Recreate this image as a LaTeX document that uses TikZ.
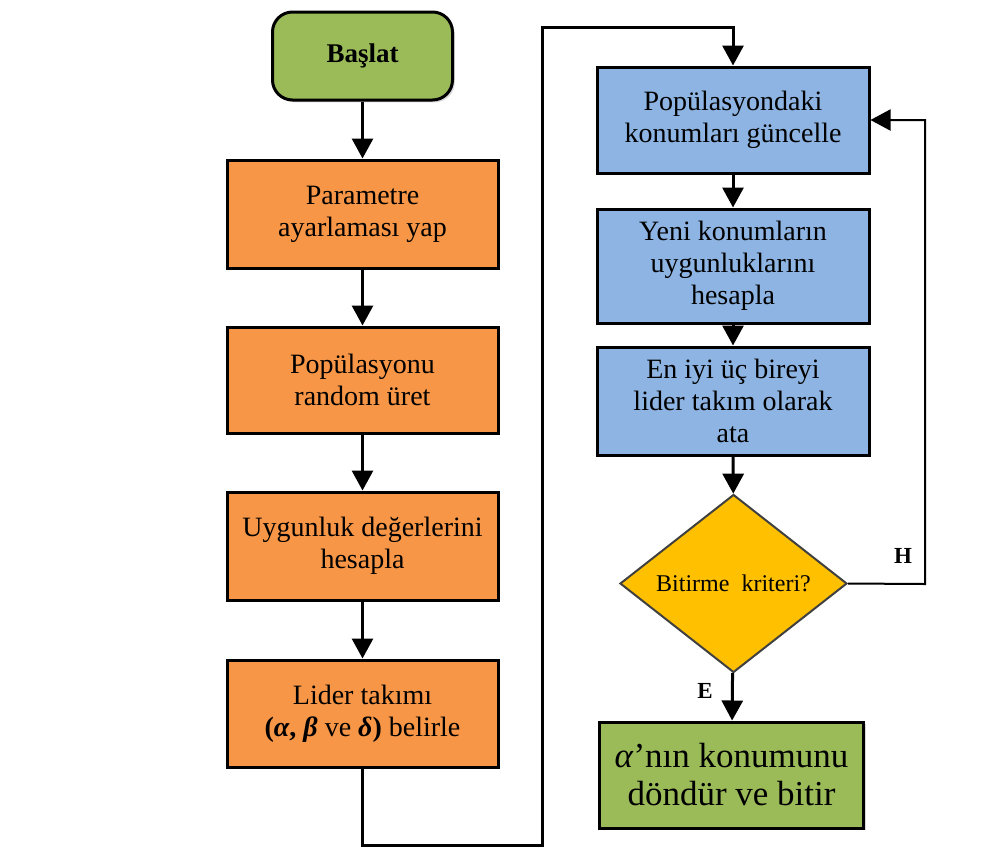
\documentclass[tikz,border=0pt]{standalone}
\usepackage{fontspec}
\setmainfont{Liberation Serif}
\usepackage{tikz}
\usetikzlibrary{shapes,arrows,positioning,shadows,calc,shapes.geometric,arrows.meta}
\definecolor{baslatgreen}{RGB}{155,187,89}
\definecolor{adimorange}{RGB}{247,150,70}
\definecolor{dongublue}{RGB}{141,180,226}
\definecolor{karargold}{RGB}{255,192,0}

\tikzset{
	adim/.style={draw=black, line width=3pt, fill=adimorange, minimum width=271pt,
		align=center, font=\fontsize{28}{32}\selectfont},
	dongu/.style={adim, fill=dongublue, minimum width=272pt},
	ok/.style={line width=3pt, -{Triangle[width=21pt,length=20pt]}},
	okince/.style={line width=2pt, -{Triangle[width=21pt,length=20pt]}}
}

\begin{document}
\begin{tikzpicture}[x=1pt,y=-1pt]
				\useasboundingbox (0,0) rectangle (984,847);
				% Baslangic
				\node[draw=black, line width=3pt, fill=baslatgreen, rounded corners=20pt,
					minimum width=180pt, minimum height=88pt, drop shadow={opacity=0.3},
					font=\fontsize{27}{32}\selectfont\bfseries] (basla) at (362.5,56) {Başlat};
				
				% Sol sutun
				\node[adim, minimum height=108pt] (param) at (362.5,214) {Parametre\\ayarlaması yap};
				\node[adim, minimum height=106pt] (pop) at (362.5,380) {Popülasyonu\\random üret};
				\node[adim, minimum height=108pt] (uyg) at (362.5,546) {Uygunluk değerlerini\\hesapla};
				\node[adim, minimum height=107pt] (lider) at (362.5,713.5)
					{Lider takımı\\\textbf{(\textit{α}, \textit{β}} ve \textbf{\textit{δ})} belirle};
				
				% Sag sutun
				\node[dongu, minimum height=106pt] (guncel) at (733,120) {Popülasyondaki\\konumları güncelle};
				\node[dongu, minimum height=114pt] (yeni) at (733,266) {Yeni konumların\\uygunluklarını\\hesapla};
				\node[dongu, minimum height=108pt] (ata) at (733,401) {En iyi üç bireyi\\lider takım olarak\\ata};
				\node[diamond, draw=black!75, line width=2pt, fill=karargold, inner sep=0pt,
					minimum width=227pt, minimum height=178pt,
					font=\fontsize{24}{28}\selectfont] (karar) at (733.5,583.5) {Bitirme~~kriteri?};
				\node[draw=black, line width=3pt, fill=baslatgreen, minimum width=264pt,
					minimum height=106pt, drop shadow={opacity=0.3}, align=center,
					font=\fontsize{35}{38}\selectfont] (bitir) at (731.5,775)
					{\textit{α}’nın konumunu\\döndür ve bitir};
				
				% Baglantilar
				\draw[ok] (basla) -- (param);
				\draw[ok] (param) -- (pop);
				\draw[ok] (pop) -- (uyg);
				\draw[ok] (uyg) -- (lider);
				\coordinate (altkose) at (542,845);
				\coordinate (ustkose) at (542,27);
				\draw[ok] (lider.south) |- (altkose) -- (ustkose) -| (guncel.north);
				\draw[ok] (guncel) -- (yeni);
				\draw[ok] (yeni) -- (ata);
				\draw[ok] (ata) -- (karar);
				\coordinate (sagkose) at (925,584);
				\draw[okince] (karar.east) -- (sagkose) |- (guncel.east);
				\draw[ok] (karar) -- (bitir);
				\node[font=\fontsize{23}{27}\selectfont\bfseries] (hayir) at (903,556) {H};
				\node[font=\fontsize{23}{27}\selectfont\bfseries] (evet) at (705,691) {E};
			\end{tikzpicture}
\end{document}
